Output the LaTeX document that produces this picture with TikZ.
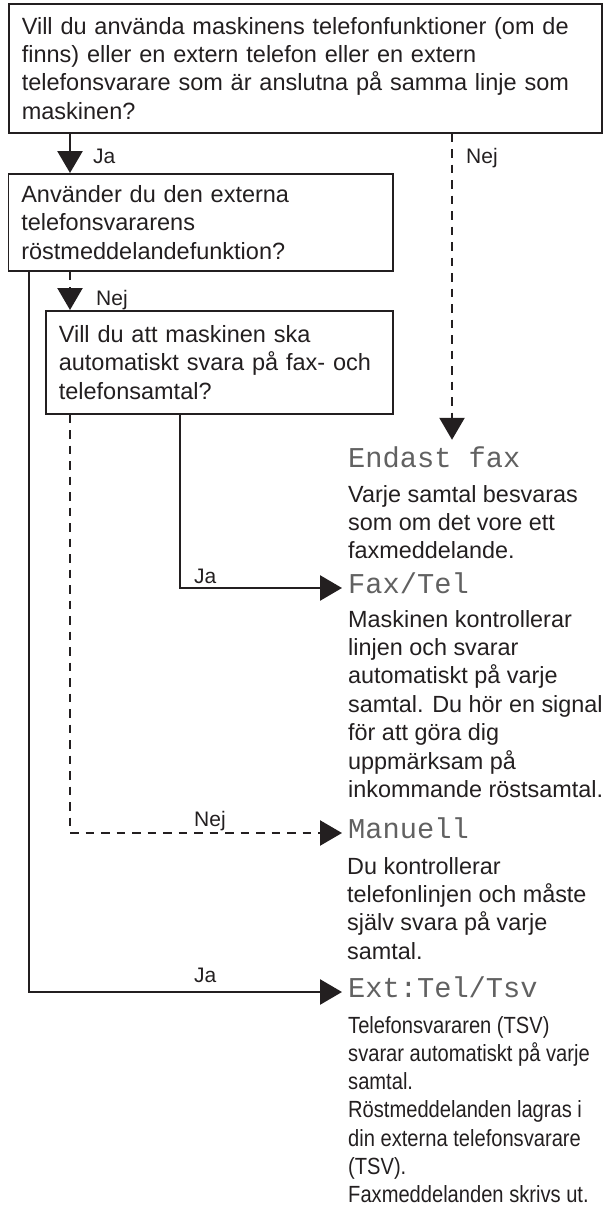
\documentclass[tikz,border=0pt]{standalone}
\usepackage{fontspec}
\setmainfont{Liberation Sans}
\newfontfamily\lcdfont{Liberation Mono}
\newfontfamily\condfont[FakeStretch=0.86]{Liberation Sans}
\usetikzlibrary{arrows.meta}
\newcommand{\desclines}[1]{\begin{tabular}[t]{@{}l@{}}#1\end{tabular}}
\definecolor{ink}{HTML}{231F20}
\tikzset{
  qbox/.style={draw=ink, line width=1.6pt, anchor=north west, align=left,
    inner xsep=13pt, inner ysep=0pt, text=ink,
    font=\fontsize{23.5}{28.3}\selectfont},
  conn/.style={draw=ink, line width=2.7pt, -{Triangle[length=22pt,width=25pt]}},
  dconn/.style={conn, line width=2.4pt, dash pattern=on 8.5pt off 7pt},
  lbl/.style={anchor=base west, inner sep=0pt, text=ink,
    font=\fontsize{21}{25}\selectfont},
  lcd/.style={anchor=west, inner xsep=6pt, inner ysep=0pt, text height=16pt,
    text depth=6pt, text=black!62, font=\lcdfont\fontsize{28.7}{30}\selectfont},
  desc/.style={anchor=base west, inner sep=0pt, text=ink,
    font=\fontsize{23.4}{28.4}\selectfont},
  cdesc/.style={desc, font=\condfont\fontsize{23.4}{28.3}\selectfont},
}
\begin{document}
\begin{tikzpicture}[x=1pt,y=-1pt]
\useasboundingbox (0,0) rectangle (604,1207);
% column coordinates
\coordinate (cA) at (70,0);
\coordinate (cB) at (452,0);
\coordinate (cC) at (29,0);
\coordinate (cD) at (180,0);
% question boxes
\node[qbox, minimum width=593pt, minimum height=129pt, text width=567pt] (q1) at (8,3)
  {Vill du använda maskinens telefonfunktioner (om de\\finns) eller en extern telefon eller en extern\\telefonsvarare som är anslutna på samma linje som\\maskinen?};
\node[qbox, minimum width=384.5pt, minimum height=97pt, text width=358.5pt] (q2) at (7.5,173)
  {Använder du den externa\\telefonsvararens\\röstmeddelandefunktion?};
\node[qbox, minimum width=347pt, minimum height=103pt, text width=321pt] (q3) at (45,310)
  {Vill du att maskinen ska\\automatiskt svara på fax- och\\telefonsamtal?};
% outcome titles
\node[lcd] (endast) at (342,462) {Endast fax};
\node[lcd] (faxtel) at (342,588) {Fax/Tel};
\node[lcd] (manuell) at (342,833) {Manuell};
\node[lcd] (exttel) at (342,992) {Ext:Tel/Tsv};
% outcome descriptions
\node[desc] (dendast) at (348,502) {\desclines{Varje samtal besvaras\\som om det vore ett\\faxmeddelande.}};
\node[desc] (dfaxtel) at (348,627) {\desclines{Maskinen kontrollerar\\linjen och svarar\\automatiskt på varje\\samtal. Du hör en signal\\för att göra dig\\uppmärksam på\\inkommande röstsamtal.}};
\node[desc] (dmanuell) at (347,874) {\desclines{Du kontrollerar\\telefonlinjen och måste\\själv svara på varje\\samtal.}};
\node[cdesc] (dexttel) at (348,1033) {\desclines{Telefonsvararen (TSV)\\svarar automatiskt på varje\\samtal.\\Röstmeddelanden lagras i\\din externa telefonsvarare\\(TSV).\\Faxmeddelanden skrivs ut.}};
% connectors
\draw[conn] (q1.south -| cA) -- (q2.north -| cA);
\draw[dconn, shorten >=11pt] (q1.south -| cB) -- (cB |- endast.north);
\draw[dconn] (q2.south -| cA) -- (q3.north -| cA);
\draw[conn] (q2.south -| cC) |- (exttel.west);
\draw[conn] (q3.south -| cD) |- (faxtel.west);
\draw[dconn] (q3.south -| cA) |- (manuell.west);
% labels
\node[lbl] (lja1) at (93,163) {Ja};
\node[lbl] (lnej1) at (466,163) {Nej};
\node[lbl] (lnej2) at (96,305) {Nej};
\node[lbl] (lja2) at (194,583) {Ja};
\node[lbl] (lnej3) at (194,826) {Nej};
\node[lbl] (lja3) at (194,982) {Ja};
\end{tikzpicture}
\end{document}
